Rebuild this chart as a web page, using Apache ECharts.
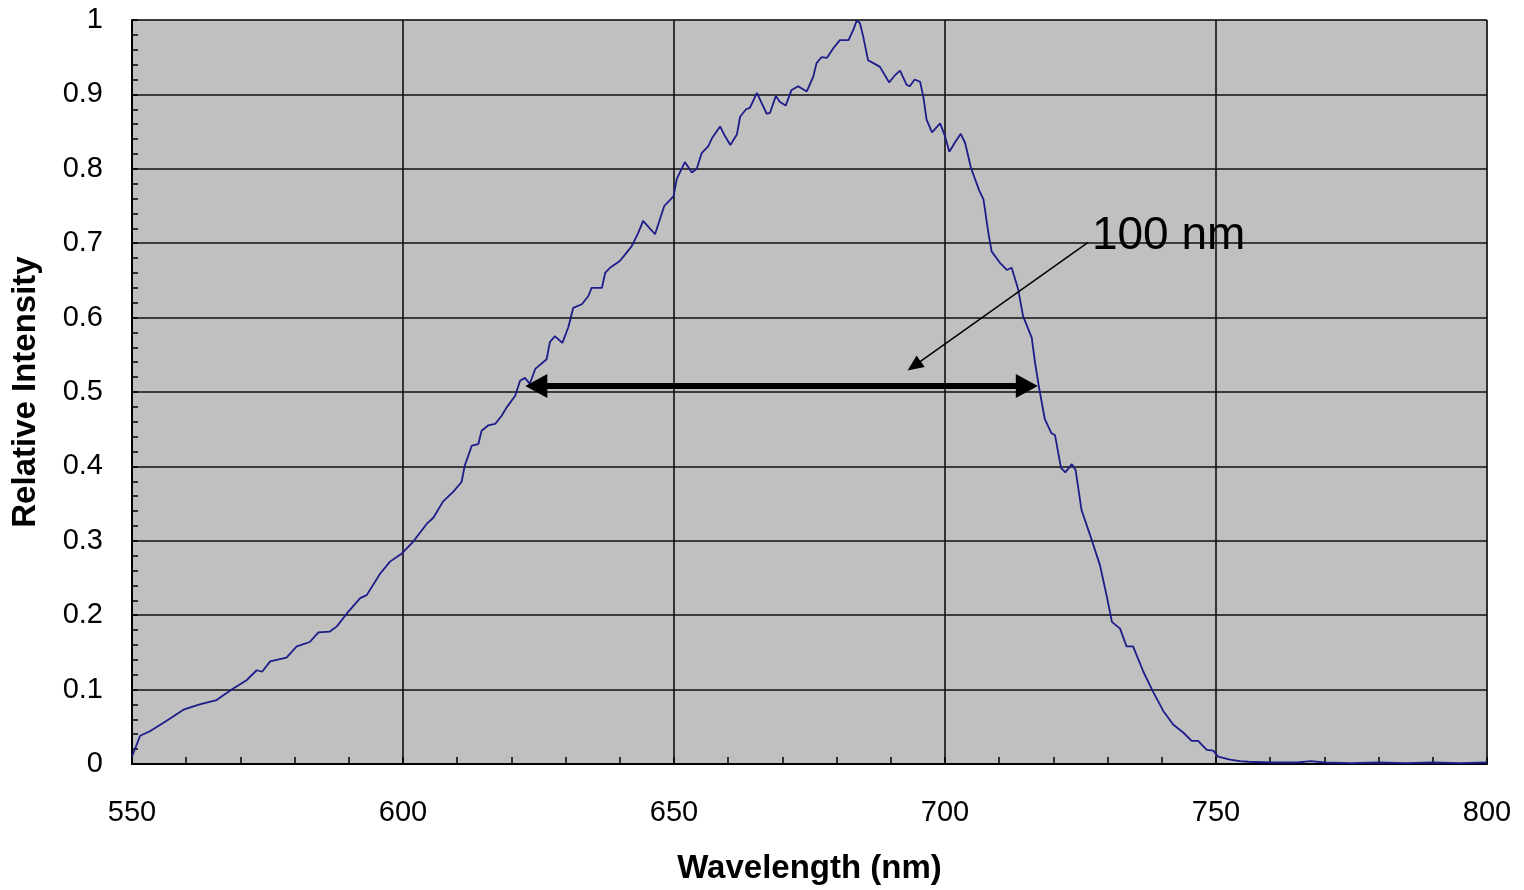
<!DOCTYPE html>
<html>
<head>
<meta charset="utf-8">
<title>Relative Intensity vs Wavelength</title>
<script src="https://cdn.jsdelivr.net/npm/echarts@6/dist/echarts.min.js"></script>
<style>
  html, body { margin: 0; padding: 0; background: #ffffff; }
  #chart { width: 1524px; height: 890px; }
</style>
</head>
<body>
<div id="chart"></div>
<script>
// Emission spectrum, wavelength in nm and intensity normalised to the peak
const wavelengths = [
  550.0, 551.5, 553.3, 556.4, 559.5, 562.5, 565.6, 568.4, 571.2, 573.0,
  574.0, 575.5, 578.5, 580.4, 582.8, 584.4, 586.5, 587.8, 589.6, 592.1,
  593.3, 595.8, 597.6, 599.8, 601.9, 604.4, 605.6, 607.4, 609.3, 610.8,
  611.4, 612.7, 613.9, 614.5, 615.7, 617.0, 618.2, 619.1, 620.7, 621.6,
  622.5, 623.4, 624.4, 626.5, 627.1, 628.0, 629.4, 630.5, 631.4, 633.0,
  634.2, 634.8, 636.7, 637.3, 638.2, 640.0, 641.0, 642.2, 643.4, 644.3,
  646.5, 648.2, 649.9, 650.5, 652.0, 653.3, 654.2, 655.1, 656.3, 657.0,
  658.5, 659.4, 660.4, 661.6, 662.2, 663.3, 664.0, 665.3, 666.2, 667.1,
  667.7, 668.8, 669.5, 670.6, 671.7, 672.9, 674.5, 675.7, 676.3, 677.2,
  678.2, 679.4, 680.6, 682.2, 683.1, 683.7, 684.3, 684.9, 685.8, 686.8,
  688.0, 689.7, 690.8, 691.7, 692.9, 693.5, 694.4, 695.4, 696.0, 696.6,
  697.6, 699.1, 700.0, 700.8, 701.8, 702.9, 703.7, 704.8, 706.3, 707.1,
  708.0, 708.6, 710.1, 711.4, 712.3, 713.5, 714.4, 716.0, 716.6, 717.4,
  718.4, 719.6, 720.3, 721.4, 722.2, 723.4, 724.1, 725.2, 726.8, 728.6,
  729.8, 730.8, 732.3, 733.5, 734.7, 736.6, 738.4, 740.3, 742.1, 744.0,
  745.5, 746.7, 748.3, 749.5, 750.4, 752.6, 754.4, 756.0, 760.0, 765.0,
  767.5, 770.0, 775.0, 780.0, 785.0, 790.0, 795.0, 800.0
];
const intensities = [
  0.010, 0.038, 0.044, 0.058, 0.073, 0.080, 0.086, 0.100, 0.113, 0.126,
  0.124, 0.138, 0.143, 0.158, 0.164, 0.177, 0.178, 0.185, 0.202, 0.223,
  0.227, 0.256, 0.272, 0.283, 0.299, 0.323, 0.331, 0.353, 0.366, 0.379,
  0.401, 0.428, 0.430, 0.448, 0.455, 0.457, 0.468, 0.479, 0.495, 0.515,
  0.519, 0.511, 0.531, 0.544, 0.567, 0.575, 0.566, 0.587, 0.613, 0.618,
  0.629, 0.640, 0.640, 0.660, 0.667, 0.676, 0.685, 0.696, 0.714, 0.730,
  0.712, 0.750, 0.763, 0.786, 0.809, 0.795, 0.800, 0.821, 0.830, 0.841,
  0.857, 0.844, 0.832, 0.846, 0.870, 0.880, 0.882, 0.902, 0.888, 0.874,
  0.875, 0.898, 0.890, 0.885, 0.906, 0.911, 0.904, 0.924, 0.942, 0.950,
  0.949, 0.962, 0.973, 0.973, 0.987, 0.999, 0.996, 0.978, 0.946, 0.942,
  0.937, 0.916, 0.926, 0.932, 0.913, 0.911, 0.920, 0.917, 0.897, 0.866,
  0.849, 0.861, 0.844, 0.823, 0.835, 0.847, 0.835, 0.801, 0.771, 0.759,
  0.714, 0.689, 0.674, 0.664, 0.667, 0.638, 0.602, 0.573, 0.540, 0.504,
  0.464, 0.445, 0.442, 0.398, 0.392, 0.403, 0.395, 0.341, 0.307, 0.267,
  0.227, 0.191, 0.182, 0.158, 0.158, 0.124, 0.097, 0.071, 0.053, 0.042,
  0.031, 0.031, 0.019, 0.018, 0.010, 0.006, 0.004, 0.003, 0.002, 0.002,
  0.004, 0.002, 0.001, 0.002, 0.001, 0.002, 0.001, 0.002
];

// Full width at half maximum, drawn as a double arrow, and its callout
const fwhmLeft = 624.6;
const fwhmRight = 715.1;
const fwhmLevel = 0.508;
const calloutText = '100 nm';
const calloutStart = [726.4, 0.701];
const calloutEnd = [694.3, 0.535];
const calloutTextAt = [727.1, 0.709];

const xTicks = { min: 550, max: 800, interval: 50 };
const yTicks = { min: 0, max: 1, interval: 0.1 };

const points = wavelengths.map((w, i) => [w, intensities[i]]);

const FONT = '"Liberation Sans", Arial, Helvetica, sans-serif';

const chart = echarts.init(document.getElementById('chart'), null, { renderer: 'canvas' });

chart.setOption({
  backgroundColor: '#ffffff',
  animation: false,
  grid: {
    left: 132, right: 37, top: 20, bottom: 124,
    show: true,
    backgroundColor: '#c0c0c0',
    borderColor: '#808080',
    borderWidth: 1
  },
  xAxis: {
    type: 'value',
    min: xTicks.min, max: xTicks.max, interval: xTicks.interval,
    name: 'Wavelength (nm)',
    nameLocation: 'middle',
    nameGap: 88,
    nameTextStyle: { fontFamily: FONT, fontSize: 33, fontWeight: 'bold', color: '#000' },
    axisLine: { show: true, onZero: false, lineStyle: { color: '#000', width: 2 } },
    axisTick: { show: true, inside: true, length: 7, lineStyle: { color: '#000', width: 1.5 } },
    minorTick: { show: true, splitNumber: 5, length: 7, lineStyle: { color: '#000', width: 1.5 } },
    axisLabel: { fontFamily: FONT, fontSize: 29, color: '#000', margin: 34 },
    splitLine: { show: true, lineStyle: { color: '#111', width: 1.6 } }
  },
  yAxis: {
    type: 'value',
    min: yTicks.min, max: yTicks.max, interval: yTicks.interval,
    name: 'Relative Intensity',
    nameLocation: 'middle',
    nameGap: 90,
    nameTextStyle: { fontFamily: FONT, fontSize: 33, fontWeight: 'bold', color: '#000' },
    axisLine: { show: true, onZero: false, lineStyle: { color: '#000', width: 2 } },
    axisTick: { show: true, inside: true, length: 6, lineStyle: { color: '#000', width: 1.5 } },
    minorTick: { show: true, splitNumber: 5, length: 6, lineStyle: { color: '#000', width: 1.5 } },
    axisLabel: {
      fontFamily: FONT, fontSize: 29, color: '#000', margin: 29,
      formatter: v => String(Math.round(v * 10) / 10)
    },
    splitLine: { show: true, lineStyle: { color: '#111', width: 1.6 } }
  },
  series: [
    {
      type: 'line',
      data: points,
      showSymbol: false,
      symbol: 'none',
      lineStyle: { color: '#1c1c8a', width: 1.8 },
      z: 3,
      markLine: {
        silent: true,
        animation: false,
        label: { show: false },
        emphasis: { disabled: true },
        data: [
          [
            { coord: [fwhmLeft, fwhmLevel], symbol: 'triangle', symbolSize: [24, 22],
              lineStyle: { color: '#000', width: 6, type: 'solid' } },
            { coord: [fwhmRight, fwhmLevel], symbol: 'triangle', symbolSize: [24, 22] }
          ],
          [
            { coord: calloutStart, symbol: 'none',
              lineStyle: { color: '#000', width: 1.5, type: 'solid' } },
            { coord: calloutEnd, symbol: 'triangle', symbolSize: [14, 16] }
          ]
        ]
      },
      markPoint: {
        silent: true,
        animation: false,
        symbol: 'circle',
        symbolSize: 0,
        data: [
          {
            coord: calloutTextAt,
            label: {
              show: true,
              position: 'right',
              distance: 0,
              formatter: calloutText,
              fontFamily: FONT,
              fontSize: 46,
              color: '#000'
            }
          }
        ]
      }
    }
  ]
});
</script>
</body>
</html>
